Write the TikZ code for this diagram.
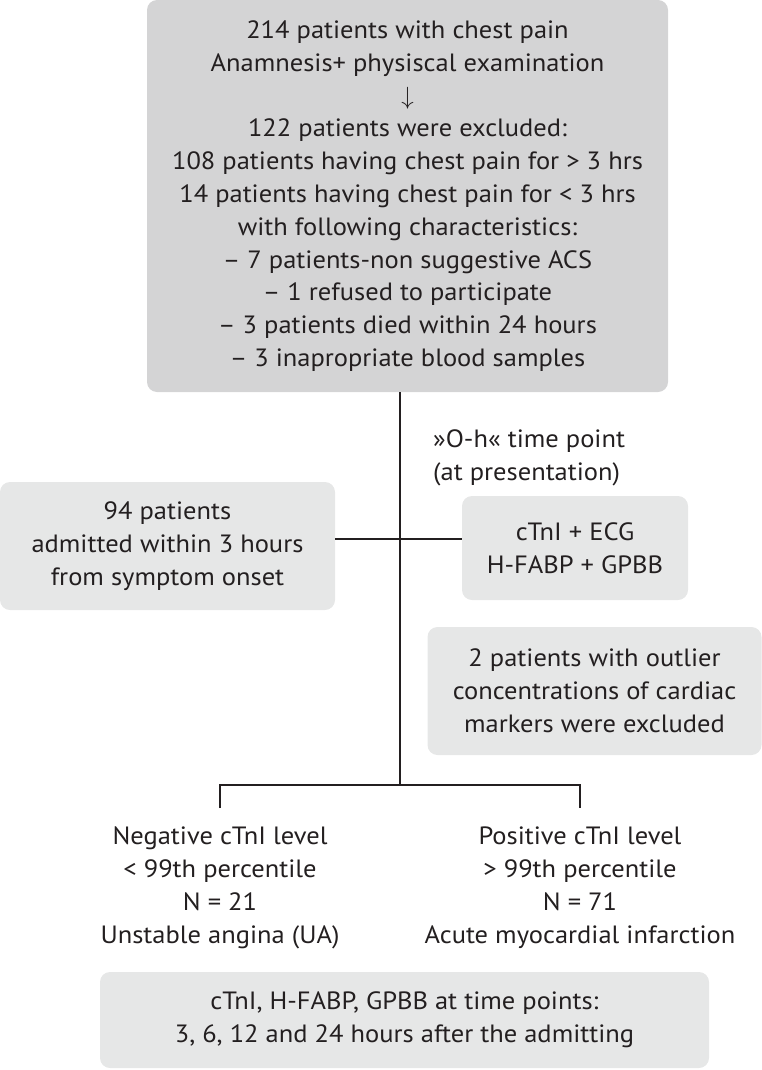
\documentclass[tikz,border=0pt]{standalone}
\usepackage{fontspec}
\setmainfont[FakeStretch=1.06]{PT Sans}
\definecolor{ink}{HTML}{231F20}
\definecolor{darkbox}{HTML}{D4D4D5}
\definecolor{lightbox}{HTML}{E6E7E7}
\begin{document}
\begin{tikzpicture}[x=1pt,y=-1pt,
  every node/.style={font=\fontsize{25}{32.8}\selectfont, text=ink, align=center},
  graybox/.style={fill=lightbox, rounded corners=10pt, inner sep=0pt},
  link/.style={draw=ink, line width=1.6pt}]
\useasboundingbox (0,0) rectangle (762,1070);
\node[graybox, fill=darkbox, minimum width=521pt, minimum height=392pt] (top) at (407.5,196)
  {214 patients with chest pain\\
   Anamnesis+ physiscal examination\\
   $\downarrow$\\
   122 patients were excluded:\\
   108 patients having chest pain for > 3 hrs\\
   14 patients having chest pain for < 3 hrs\\
   with following characteristics:\\
   – 7 patients-non suggestive ACS\\
   – 1 refused to participate\\
   – 3 patients died within 24 hours\\
   – 3 inapropriate blood samples};
\coordinate (j) at (400,785);
\coordinate (hl) at (400,539);
\node[anchor=west, align=left, inner sep=0pt] (oh) at (433,457.5)
  {»O-h« time point\\(at presentation)};
\node[graybox, minimum width=335pt, minimum height=128pt] (adm) at (167.5,546)
  {94 patients\\admitted within 3 hours\\from symptom onset};
\node[graybox, minimum width=226pt, minimum height=104pt] (ctni) at (575,548)
  {cTnI + ECG\\H-FABP + GPBB};
\node[graybox, minimum width=334pt, minimum height=128pt] (outl) at (594.5,691)
  {2 patients with outlier\\concentrations of cardiac\\markers were excluded};
\node[inner xsep=0pt, inner ysep=19pt, anchor=north] (neg) at (220,808)
  {Negative cTnI level\\< 99th percentile\\N = 21\\Unstable angina (UA)};
\node[inner xsep=0pt, inner ysep=19pt, anchor=north] (pos) at (580,808)
  {Positive cTnI level\\> 99th percentile\\N = 71\\Acute myocardial infarction};
\node[graybox, minimum width=609pt, minimum height=96pt] (fol) at (404.5,1020)
  {cTnI, H-FABP, GPBB at time points:\\3, 6, 12 and 24 hours after the admitting};
\draw[link] (j |- top.south) -- (j);
\draw[link] (adm.east |- hl) -- (ctni.west |- hl);
\draw[link] (neg.north) |- (j) -| (pos.north);
\end{tikzpicture}
\end{document}
